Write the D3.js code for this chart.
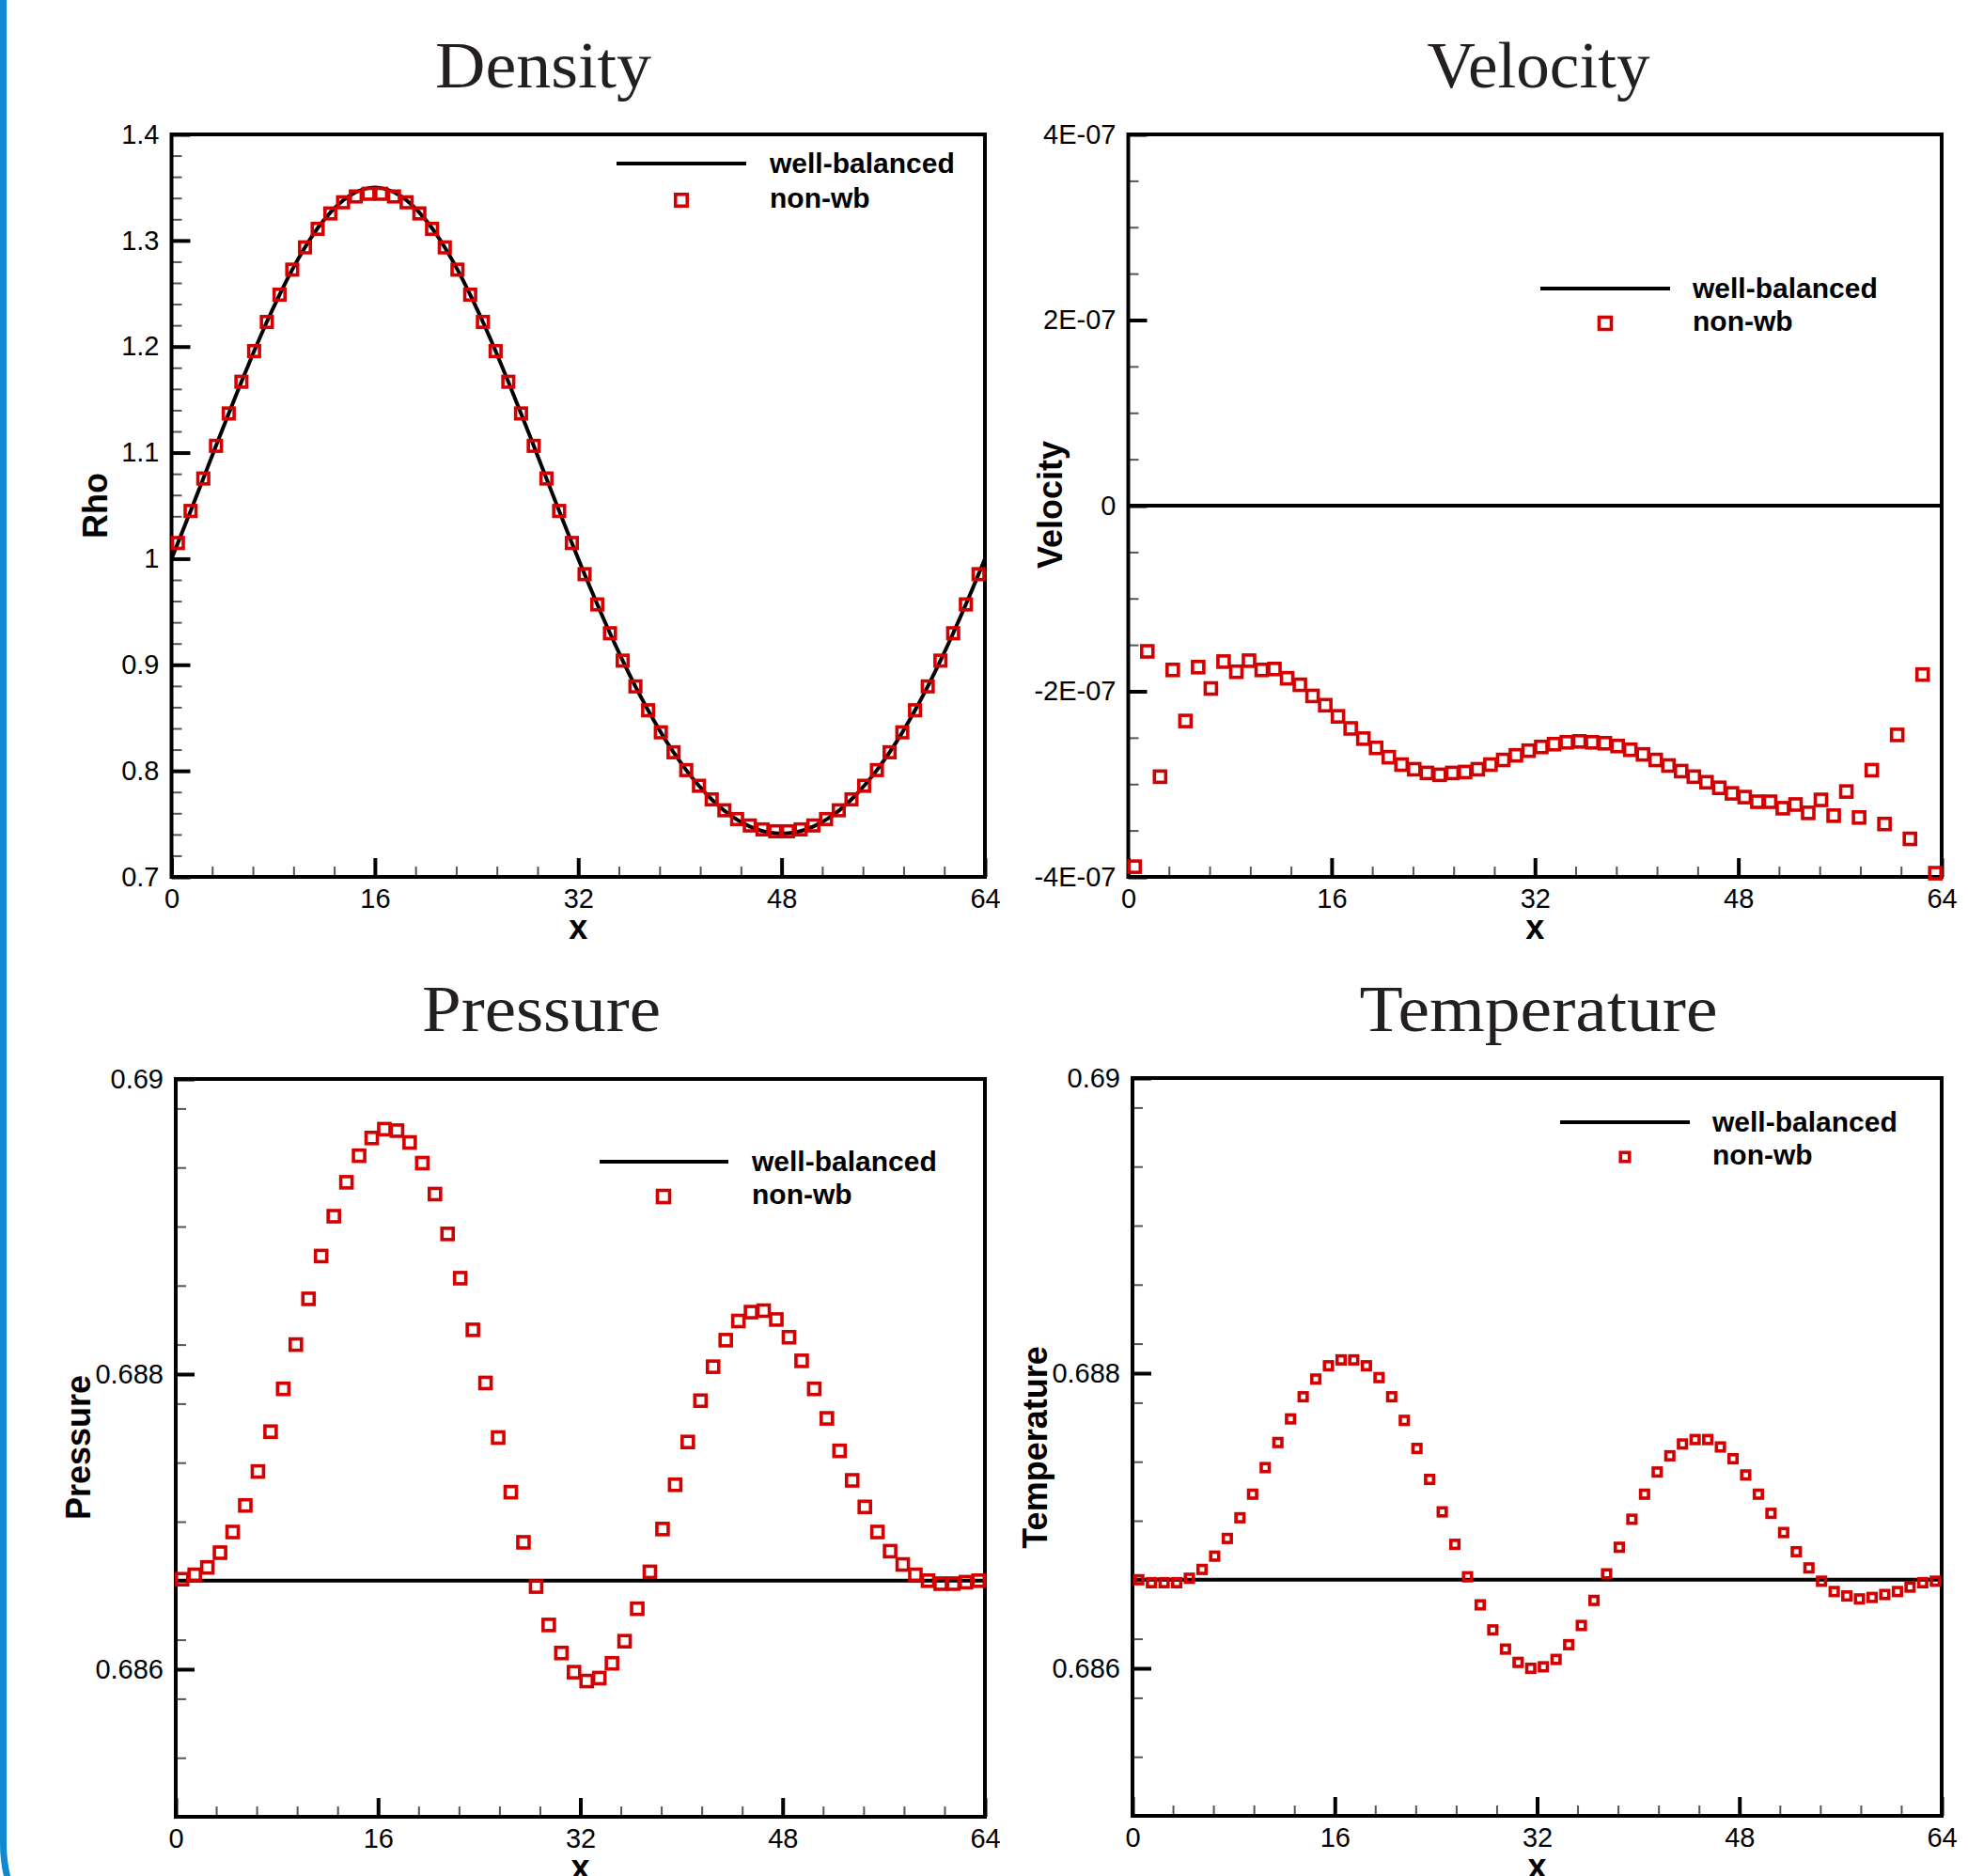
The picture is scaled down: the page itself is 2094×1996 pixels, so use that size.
<!DOCTYPE html>
<html>
<head>
<meta charset="utf-8">
<script src="https://cdn.jsdelivr.net/npm/d3@7"></script>
<style>
  body { margin: 0; background: #fff; }
  svg { display: block; }
</style>
</head>
<body>
<svg id="chart" width="2094" height="1996"></svg>
<script>
// cell centres of the 64-cell grid, x from 0 to 64
var cellX = d3.range(64).map(function(i){ return i + 0.5; });
var xTicks = [0, 16, 32, 48, 64];

// density: well-balanced line (with the two end points) and non-wb squares
var densityLineX = [0].concat(cellX, [64]);
var densityWB = [1.0,
  1.0148, 1.0450, 1.0756, 1.1064, 1.1369, 1.1668, 1.1957, 1.2232, 1.2489, 1.2725, 1.2935, 1.3116, 1.3264, 1.3378, 1.3455, 1.3494,
  1.3494, 1.3455, 1.3378, 1.3264, 1.3116, 1.2935, 1.2725, 1.2489, 1.2232, 1.1957, 1.1668, 1.1369, 1.1064, 1.0756, 1.0450, 1.0148,
  0.9854, 0.9569, 0.9297, 0.9039, 0.8796, 0.8571, 0.8363, 0.8175, 0.8007, 0.7859, 0.7731, 0.7624, 0.7539, 0.7475, 0.7432, 0.7411,
  0.7411, 0.7432, 0.7475, 0.7539, 0.7624, 0.7731, 0.7859, 0.8007, 0.8175, 0.8363, 0.8571, 0.8796, 0.9039, 0.9297, 0.9569, 0.9854,
  1.0];
var densityNWB = [
  1.0148, 1.0450, 1.0756, 1.1064, 1.1369, 1.1668, 1.1957, 1.2232, 1.2489, 1.2725, 1.2935, 1.3110, 1.3255, 1.3360, 1.3415, 1.3440,
  1.3440, 1.3415, 1.3360, 1.3255, 1.3110, 1.2935, 1.2725, 1.2489, 1.2232, 1.1957, 1.1668, 1.1369, 1.1064, 1.0756, 1.0450, 1.0148,
  0.9854, 0.9569, 0.9297, 0.9039, 0.8796, 0.8571, 0.8363, 0.8175, 0.8007, 0.7859, 0.7731, 0.7628, 0.7545, 0.7485, 0.7448, 0.7430,
  0.7430, 0.7448, 0.7485, 0.7545, 0.7628, 0.7731, 0.7859, 0.8007, 0.8175, 0.8363, 0.8571, 0.8796, 0.9039, 0.9297, 0.9569, 0.9854];
var densityTicks = [0.7, 0.8, 0.9, 1, 1.1, 1.2, 1.3, 1.4];
var densityTickLabels = ["0.7", "0.8", "0.9", "1", "1.1", "1.2", "1.3", "1.4"];

// velocity, in units of 1E-07
var velocityLineX = [0, 64];
var velocityWB = [0, 0];
var velocityNWB = [-3.89, -1.57, -2.92, -1.77, -2.32, -1.74, -1.97, -1.68, -1.79, -1.67,
  -1.77, -1.76, -1.86, -1.93, -2.05, -2.15, -2.27, -2.40, -2.51, -2.61,
  -2.71, -2.79, -2.84, -2.88, -2.90, -2.88, -2.87, -2.84, -2.79, -2.74,
  -2.69, -2.64, -2.60, -2.57, -2.55, -2.54, -2.55, -2.56, -2.59, -2.63,
  -2.68, -2.74, -2.80, -2.86, -2.92, -2.98, -3.04, -3.10, -3.14, -3.19,
  -3.19, -3.26, -3.22, -3.31, -3.17, -3.34, -3.08, -3.36, -2.85, -3.43,
  -2.47, -3.59, -1.82, -3.96];
var velocityTicks = [-4, -2, 0, 2, 4];
var velocityTickLabels = ["-4E-07", "-2E-07", "0", "2E-07", "4E-07"];

// pressure
var pressureLineX = [0, 64];
var pressureWB = [0.6866, 0.6866];
var pressureNWB = [0.68661, 0.68664, 0.68669, 0.68679, 0.68693, 0.68711, 0.68734, 0.68761, 0.68790, 0.68820,
  0.68851, 0.68880, 0.68907, 0.68930, 0.68948, 0.68960, 0.68966, 0.68965, 0.68957, 0.68943,
  0.68922, 0.68895, 0.68865, 0.68830, 0.68794, 0.68757, 0.68720, 0.68686, 0.68656, 0.68630,
  0.68611, 0.68598, 0.68592, 0.68594, 0.68604, 0.68619, 0.68641, 0.68666, 0.68695, 0.68725,
  0.68754, 0.68782, 0.68805, 0.68823, 0.68836, 0.68842, 0.68843, 0.68837, 0.68825, 0.68809,
  0.68790, 0.68770, 0.68748, 0.68728, 0.68710, 0.68693, 0.68680, 0.68671, 0.68664, 0.68660,
  0.68658, 0.68658, 0.68659, 0.68660];

// temperature
var temperatureLineX = [0, 64];
var temperatureWB = [0.6866, 0.6866];
var temperatureNWB = [0.68660, 0.68658, 0.68658, 0.68658, 0.68661, 0.68667, 0.68676, 0.68688, 0.68702, 0.68718,
  0.68736, 0.68753, 0.68769, 0.68784, 0.68796, 0.68805, 0.68809, 0.68809, 0.68805, 0.68797,
  0.68784, 0.68768, 0.68749, 0.68728, 0.68706, 0.68684, 0.68662, 0.68643, 0.68626, 0.68613,
  0.68604, 0.68600, 0.68601, 0.68606, 0.68616, 0.68629, 0.68646, 0.68664, 0.68682, 0.68701,
  0.68718, 0.68733, 0.68744, 0.68752, 0.68755, 0.68755, 0.68750, 0.68742, 0.68731, 0.68718,
  0.68705, 0.68692, 0.68679, 0.68668, 0.68659, 0.68652, 0.68649, 0.68647, 0.68648, 0.68650,
  0.68652, 0.68655, 0.68658, 0.68659];
var pTTicks = [0.686, 0.688, 0.69];
var pTTickLabels = ["0.686", "0.688", "0.69"];

var seriesNames = ["well-balanced", "non-wb"];

var RED = "#d20000";
var svg = d3.select("#chart");
svg.append("rect").attr("width", 2094).attr("height", 1996).attr("fill", "#fff");

// blue slide border on the left
svg.append("path")
  .attr("d", "M3.5,-10 L3.5,1960 A150,150 0 0 0 30,2046")
  .attr("fill", "none").attr("stroke", "#0f89cf").attr("stroke-width", 7);

var panels = [
  {title: "Density", tx: 578, ty: 93, tlen: 230, ylab: "Rho", lx: 114, ly: 538,
   L: 182.5, R: 1048, T: 143, B: 933, dom: [0.7, 1.4], minor: 0.02,
   ticks: densityTicks, labels: densityTickLabels,
   lineX: densityLineX, lineY: densityWB, pts: densityNWB, ms: 11.5,
   leg: {x1: 656, x2: 794, y: 174, mx: 725, my: 213, tx: 819}},
  {title: "Velocity", tx: 1637, ty: 93, tlen: 237, ylab: "Velocity", lx: 1130, ly: 537,
   L: 1200.5, R: 2066, T: 143, B: 933, dom: [-4, 4], minor: 0.5,
   ticks: velocityTicks, labels: velocityTickLabels,
   lineX: velocityLineX, lineY: velocityWB, pts: velocityNWB, ms: 12,
   leg: {x1: 1639, x2: 1777, y: 307, mx: 1708, my: 344, tx: 1801}},
  {title: "Pressure", tx: 576, ty: 1097, tlen: 254, ylab: "Pressure", lx: 96, ly: 1540,
   L: 187, R: 1048, T: 1148, B: 1933, dom: [0.685, 0.69], minor: 0.0004,
   ticks: pTTicks, labels: pTTickLabels,
   lineX: pressureLineX, lineY: pressureWB, pts: pressureNWB, ms: 12,
   leg: {x1: 638, x2: 775, y: 1236, mx: 706, my: 1273, tx: 800}},
  {title: "Temperature", tx: 1637, ty: 1097, tlen: 381, ylab: "Temperature", lx: 1114, ly: 1540,
   L: 1205, R: 2066, T: 1147, B: 1932, dom: [0.685, 0.69], minor: 0.0004,
   ticks: pTTicks, labels: pTTickLabels,
   lineX: temperatureLineX, lineY: temperatureWB, pts: temperatureNWB, ms: 8.5,
   leg: {x1: 1660, x2: 1798, y: 1194, mx: 1729, my: 1231, tx: 1822}}
];

panels.forEach(function(p) {
  var x = d3.scaleLinear().domain([0, 64]).range([p.L, p.R]);
  var y = d3.scaleLinear().domain(p.dom).range([p.B, p.T]);
  var g = svg.append("g");

  // title
  g.append("text")
    .attr("x", p.tx).attr("y", p.ty)
    .attr("text-anchor", "middle")
    .attr("textLength", p.tlen).attr("lengthAdjust", "spacingAndGlyphs")
    .style("font-family", "'Liberation Serif', 'DejaVu Serif', serif")
    .style("font-size", "70px").attr("fill", "#231f20")
    .text(p.title);

  // minor ticks
  var yMinor = d3.range(p.dom[0], p.dom[1] + p.minor / 2, p.minor);
  var xMinor = d3.range(0, 64.01, 3.2);
  g.append("g").attr("transform", "translate(" + p.L + ",0)")
    .call(d3.axisLeft(y).tickValues(yMinor).tickSize(-11).tickFormat(""))
    .call(function(a){ a.select(".domain").remove();
      a.selectAll("line").attr("stroke", "#555").attr("stroke-width", 2); });
  g.append("g").attr("transform", "translate(0," + p.B + ")")
    .call(d3.axisBottom(x).tickValues(xMinor).tickSize(-11).tickFormat(""))
    .call(function(a){ a.select(".domain").remove();
      a.selectAll("line").attr("stroke", "#555").attr("stroke-width", 2); });

  // major ticks with labels
  g.append("g").attr("transform", "translate(" + p.L + ",0)")
    .call(d3.axisLeft(y).tickValues(p.ticks).tickSize(-20).tickPadding(13)
      .tickFormat(function(d, i){ return p.labels[i]; }))
    .call(function(a){ a.select(".domain").remove();
      a.selectAll("line").attr("stroke", "#000").attr("stroke-width", 4);
      a.selectAll("text").attr("fill", "#000")
        .style("font-family", "'Liberation Sans', Arial, sans-serif").style("font-size", "29px"); });
  g.append("g").attr("transform", "translate(0," + p.B + ")")
    .call(d3.axisBottom(x).tickValues(xTicks).tickSize(-20).tickPadding(12))
    .call(function(a){ a.select(".domain").remove();
      a.selectAll("line").attr("stroke", "#000").attr("stroke-width", 4);
      a.selectAll("text").attr("fill", "#000")
        .style("font-family", "'Liberation Sans', Arial, sans-serif").style("font-size", "29px"); });

  // frame
  g.append("rect")
    .attr("x", p.L).attr("y", p.T)
    .attr("width", p.R - p.L).attr("height", p.B - p.T)
    .attr("fill", "none").attr("stroke", "#000").attr("stroke-width", 4);

  // axis titles
  g.append("text")
    .attr("transform", "translate(" + p.lx + "," + p.ly + ") rotate(-90)")
    .attr("text-anchor", "middle")
    .style("font-family", "'Liberation Sans', Arial, sans-serif")
    .style("font-size", "36px").style("font-weight", "bold")
    .text(p.ylab);
  g.append("text")
    .attr("x", (p.L + p.R) / 2).attr("y", p.B + 66)
    .attr("text-anchor", "middle")
    .style("font-family", "'Liberation Sans', Arial, sans-serif")
    .style("font-size", "36px").style("font-weight", "bold")
    .text("x");

  // well-balanced line
  var line = d3.line()
    .x(function(d, i){ return x(p.lineX[i]); })
    .y(function(d){ return y(d); })
    .curve(d3.curveNatural);
  g.append("path").datum(p.lineY)
    .attr("d", line)
    .attr("fill", "none").attr("stroke", "#000").attr("stroke-width", 4);

  // non-wb squares
  g.selectAll("rect.pt").data(p.pts).enter().append("rect")
    .attr("class", "pt")
    .attr("x", function(d, i){ return x(cellX[i]) - p.ms / 2; })
    .attr("y", function(d){ return y(d) - p.ms / 2; })
    .attr("width", p.ms).attr("height", p.ms)
    .attr("fill", "none").attr("stroke", RED).attr("stroke-width", 3.6);

  // legend
  var lg = p.leg;
  g.append("line")
    .attr("x1", lg.x1).attr("x2", lg.x2).attr("y1", lg.y).attr("y2", lg.y)
    .attr("stroke", "#000").attr("stroke-width", 4);
  var lms = p.ms + 1;
  g.append("rect")
    .attr("x", lg.mx - lms / 2).attr("y", lg.my - lms / 2)
    .attr("width", lms).attr("height", lms)
    .attr("fill", "none").attr("stroke", RED).attr("stroke-width", 3.6);
  g.selectAll("text.leg").data(seriesNames).enter().append("text")
    .attr("class", "leg")
    .attr("x", lg.tx)
    .attr("y", function(d, i){ return i === 0 ? lg.y + 10 : lg.my + 8; })
    .style("font-family", "'Liberation Sans', Arial, sans-serif")
    .style("font-size", "30px").style("font-weight", "bold")
    .text(function(d){ return d; });
});
</script>
</body>
</html>
